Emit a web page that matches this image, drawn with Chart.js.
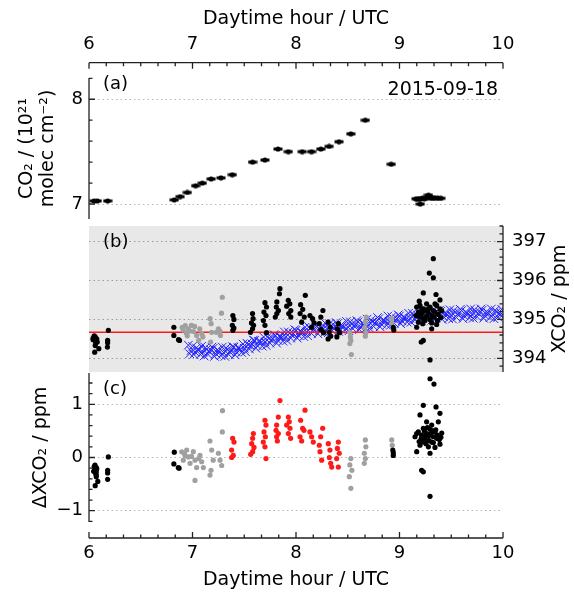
<!DOCTYPE html>
<html>
<head>
<meta charset="utf-8">
<script src="https://cdn.jsdelivr.net/npm/chart.js@4.4.0/dist/chart.umd.min.js"></script>
<style>
html, body { margin: 0; padding: 0; background: #fff; }
#fig { position: relative; width: 574px; height: 593px; background: #fff; }
#fig canvas { position: absolute; left: 0; top: 0; }
</style>
</head>
<body>
<div id="fig">
  <canvas id="cTop" width="574" height="593"></canvas>
  <canvas id="cA" width="574" height="593"></canvas>
  <canvas id="cB" width="574" height="593"></canvas>
  <canvas id="cC" width="574" height="593"></canvas>
  <canvas id="cBot" width="574" height="593"></canvas>
</div>
<script>
// ---- data: [hour UTC, value] ----
const dateLabel = '2015-09-18';
const hourTicks = [6, 7, 8, 9, 10];
const colTicks = [7, 8];
const xco2Ticks = [394, 395, 396, 397];
const dTicks = [-1, 0, 1];

// (a) CO2 column, 1e21 molec cm-2
const colPts = [
  [6.05, 7.03], [6.08, 7.03], [6.18, 7.03],
  [6.824, 7.04], [6.88, 7.07], [6.95, 7.11], [7.03, 7.175], [7.095, 7.20],
  [7.18, 7.24], [7.275, 7.25], [7.385, 7.28], [7.58, 7.40], [7.70, 7.42],
  [7.826, 7.525], [7.926, 7.50], [8.06, 7.50], [8.15, 7.50], [8.24, 7.525],
  [8.32, 7.55], [8.415, 7.595], [8.53, 7.67], [8.67, 7.80], [8.92, 7.38],
  [9.16, 7.05], [9.18, 7.045], [9.20, 7.05], [9.20, 7.00], [9.22, 7.055],
  [9.24, 7.05], [9.26, 7.06], [9.28, 7.085], [9.30, 7.06], [9.32, 7.055],
  [9.34, 7.06], [9.37, 7.055], [9.40, 7.055]
];

// (b) XCO2, ppm
const xBlack = [
  [6.04, 394.52], [6.05, 394.58], [6.06, 394.55], [6.055, 394.47], [6.07, 394.46],
  [6.065, 394.40], [6.08, 394.42], [6.06, 394.33], [6.095, 394.25], [6.055, 394.16],
  [6.04, 394.48], [6.075, 394.50],
  [6.187, 394.72], [6.18, 394.46], [6.18, 394.40], [6.178, 394.29],
  [6.82, 394.80], [6.82, 394.59], [6.865, 394.48], [6.875, 394.46],
  [7.39, 395.10], [7.40, 395.00], [7.385, 394.85], [7.40, 394.78], [7.39, 394.72],
  [7.58, 395.15], [7.585, 395.02], [7.57, 394.91], [7.59, 394.85], [7.58, 394.76], [7.56, 394.67],
  [7.70, 395.43], [7.715, 395.32], [7.69, 395.19], [7.71, 395.10], [7.685, 394.97], [7.70, 394.85], [7.715, 394.66],
  [7.845, 395.79], [7.84, 395.66], [7.815, 395.45], [7.81, 395.32], [7.83, 395.23], [7.815, 395.15], [7.80, 395.06],
  [7.925, 395.49], [7.94, 395.40], [7.91, 395.34], [7.95, 395.23], [7.93, 395.15], [7.95, 395.06],
  [8.09, 395.62], [8.045, 395.38], [8.065, 395.26], [8.04, 395.15], [8.08, 395.06], [8.055, 394.93],
  [8.135, 395.10], [8.16, 395.02], [8.175, 394.91], [8.15, 394.80],
  [8.26, 395.23], [8.24, 395.06], [8.225, 394.89], [8.24, 394.74], [8.265, 394.66],
  [8.31, 394.93], [8.33, 394.80], [8.32, 394.67], [8.335, 394.57], [8.31, 394.50],
  [8.41, 394.89], [8.40, 394.76], [8.42, 394.66], [8.395, 394.55],
  [8.94, 394.80], [8.945, 394.73],
  [9.327, 396.56], [9.288, 396.19], [9.327, 396.07], [9.230, 395.68], [9.353, 395.64],
  [9.191, 395.47], [9.391, 395.50], [9.166, 395.32], [9.198, 395.36], [9.230, 395.27],
  [9.262, 395.40], [9.295, 395.32], [9.327, 395.23], [9.359, 395.36], [9.391, 395.27],
  [9.182, 395.19], [9.214, 395.15], [9.246, 395.22], [9.279, 395.16], [9.311, 395.10],
  [9.343, 395.19], [9.375, 395.13], [9.408, 395.22], [9.159, 395.10], [9.198, 395.06],
  [9.230, 395.02], [9.262, 395.08], [9.295, 394.99], [9.333, 395.06], [9.366, 394.97],
  [9.398, 395.05], [9.182, 394.93], [9.224, 394.89], [9.311, 394.91], [9.359, 394.87],
  [9.166, 394.80], [9.311, 394.76], [9.246, 394.97], [9.279, 395.27], [9.343, 395.40],
  [9.214, 395.27],
  [9.21, 394.42], [9.23, 394.46], [9.295, 393.96], [9.288, 393.49]
];
const xGray = [
  [6.90, 394.80], [6.91, 394.73], [6.93, 394.84], [6.94, 394.65], [6.96, 394.76],
  [6.99, 394.85], [7.01, 394.69], [7.02, 394.82], [7.04, 394.59], [7.07, 394.76],
  [7.09, 394.63], [7.10, 394.55], [7.06, 394.46], [6.975, 394.70], [6.95, 394.58],
  [7.17, 395.02], [7.18, 394.89], [7.185, 394.67], [7.175, 394.42], [7.23, 394.67],
  [7.25, 394.76], [7.27, 394.59], [7.28, 395.16], [7.288, 395.57], [7.265, 394.70],
  [8.52, 394.67], [8.525, 394.55], [8.53, 394.46], [8.52, 394.38], [8.535, 394.10],
  [8.68, 395.06], [8.67, 394.93], [8.665, 394.80], [8.675, 394.66], [8.67, 394.57],
  [8.925, 395.02], [8.925, 394.90]
];
const modelPts = [
  [6.96, 394.34], [6.9725, 394.12], [6.985, 394.20],
  [7.0, 394.31], [7.0125, 394.10], [7.025, 394.16], [7.0375, 394.27], [7.05, 394.23], [7.0625, 394.21], [7.075, 394.10], [7.0875, 394.31],
  [7.1, 394.16], [7.1125, 394.06], [7.125, 394.28], [7.1375, 394.23], [7.15, 394.10], [7.1625, 394.17], [7.175, 394.22], [7.1875, 394.29],
  [7.2, 394.26], [7.2125, 394.05], [7.225, 394.12], [7.2375, 394.22], [7.25, 394.20], [7.2625, 394.16], [7.275, 394.07], [7.2875, 394.29],
  [7.3, 394.15], [7.3125, 394.05], [7.325, 394.27], [7.3375, 394.22], [7.35, 394.10], [7.3625, 394.16], [7.375, 394.22], [7.3875, 394.30],
  [7.4, 394.29], [7.4125, 394.09], [7.425, 394.16], [7.4375, 394.27], [7.45, 394.27], [7.4625, 394.23], [7.475, 394.15], [7.4875, 394.37],
  [7.5, 394.26], [7.5125, 394.17], [7.525, 394.39], [7.5375, 394.35], [7.55, 394.24], [7.5625, 394.32], [7.575, 394.37], [7.5875, 394.47],
  [7.6, 394.46], [7.6125, 394.26], [7.625, 394.33], [7.6375, 394.44], [7.65, 394.44], [7.6625, 394.41], [7.675, 394.31], [7.6875, 394.55],
  [7.7, 394.42], [7.7125, 394.33], [7.725, 394.55], [7.7375, 394.51], [7.75, 394.39], [7.7625, 394.47], [7.775, 394.51], [7.7875, 394.61],
  [7.8, 394.59], [7.8125, 394.39], [7.825, 394.46], [7.8375, 394.57], [7.85, 394.56], [7.8625, 394.54], [7.875, 394.44], [7.8875, 394.68],
  [7.9, 394.55], [7.9125, 394.46], [7.925, 394.68], [7.9375, 394.64], [7.95, 394.52], [7.9625, 394.60], [7.975, 394.64], [7.9875, 394.74],
  [8.0, 394.72], [8.0125, 394.52], [8.025, 394.59], [8.0375, 394.70], [8.05, 394.68], [8.0625, 394.66], [8.075, 394.56], [8.0875, 394.80],
  [8.1, 394.68], [8.1125, 394.58], [8.125, 394.81], [8.1375, 394.76], [8.15, 394.64], [8.1625, 394.72], [8.175, 394.76], [8.1875, 394.85],
  [8.2, 394.83], [8.2125, 394.63], [8.225, 394.70], [8.2375, 394.80], [8.25, 394.79], [8.2625, 394.76], [8.275, 394.66], [8.2875, 394.89],
  [8.3, 394.76], [8.3125, 394.66], [8.325, 394.89], [8.3375, 394.83], [8.35, 394.71], [8.3625, 394.78], [8.375, 394.83], [8.3875, 394.92],
  [8.4, 394.89], [8.4125, 394.69], [8.425, 394.75], [8.4375, 394.86], [8.45, 394.84], [8.4625, 394.81], [8.475, 394.72], [8.4875, 394.95],
  [8.5, 394.81], [8.5125, 394.71], [8.525, 394.94], [8.5375, 394.88], [8.55, 394.76], [8.5625, 394.83], [8.575, 394.88], [8.5875, 394.97],
  [8.6, 394.94], [8.6125, 394.74], [8.625, 394.80], [8.6375, 394.91], [8.65, 394.89], [8.6625, 394.87], [8.675, 394.77], [8.6875, 395.01],
  [8.7, 394.86], [8.7125, 394.77], [8.725, 394.98], [8.7375, 394.94], [8.75, 394.82], [8.7625, 394.91], [8.775, 394.94], [8.7875, 395.05],
  [8.8, 395.02], [8.8125, 394.81], [8.825, 394.88], [8.8375, 394.98], [8.85, 394.97], [8.8625, 394.95], [8.875, 394.85], [8.8875, 395.09],
  [8.9, 394.95], [8.9125, 394.85], [8.925, 395.07], [8.9375, 395.02], [8.95, 394.90], [8.9625, 394.98], [8.975, 395.02], [8.9875, 395.12],
  [9.0, 395.09], [9.0125, 394.89], [9.025, 394.96], [9.0375, 395.06], [9.05, 395.05], [9.0625, 395.02], [9.075, 394.93], [9.0875, 395.16],
  [9.1, 395.03], [9.1125, 394.93], [9.125, 395.16], [9.1375, 395.10], [9.15, 394.99], [9.1625, 395.06], [9.175, 395.11], [9.1875, 395.20],
  [9.2, 395.17], [9.2125, 394.96], [9.225, 395.04], [9.2375, 395.13], [9.25, 395.11], [9.2625, 395.09], [9.275, 395.00], [9.2875, 395.22],
  [9.3, 395.08], [9.3125, 394.98], [9.325, 395.21], [9.3375, 395.15], [9.35, 395.03], [9.3625, 395.11], [9.375, 395.15], [9.3875, 395.24],
  [9.4, 395.21], [9.4125, 395.00], [9.425, 395.07], [9.4375, 395.17], [9.45, 395.15], [9.4625, 395.12], [9.475, 395.02], [9.4875, 395.25],
  [9.5, 395.11], [9.5125, 395.01], [9.525, 395.23], [9.5375, 395.18], [9.55, 395.05], [9.5625, 395.13], [9.575, 395.17], [9.5875, 395.26],
  [9.6, 395.23], [9.6125, 395.02], [9.625, 395.09], [9.6375, 395.19], [9.65, 395.17], [9.6625, 395.14], [9.675, 395.04], [9.6875, 395.27],
  [9.7, 395.13], [9.7125, 395.03], [9.725, 395.25], [9.7375, 395.20], [9.75, 395.07], [9.7625, 395.15], [9.775, 395.19], [9.7875, 395.27],
  [9.8, 395.24], [9.8125, 395.03], [9.825, 395.10], [9.8375, 395.20], [9.85, 395.18], [9.8625, 395.15], [9.875, 395.05], [9.8875, 395.27],
  [9.9, 395.12], [9.9125, 395.02], [9.925, 395.24], [9.9375, 395.19], [9.95, 395.06], [9.9625, 395.14], [9.975, 395.18], [9.9875, 395.26],
  [9.99, 395.10]
];
const refLevel = 394.67;

// (c) delta XCO2, ppm
const dBlack = [
  [6.058, -0.145], [6.07, -0.19], [6.055, -0.23], [6.07, -0.27], [6.07, -0.33],
  [6.085, -0.45], [6.06, -0.53], [6.075, -0.21], [6.05, -0.17], [6.07, -0.36],
  [6.045, -0.26], [6.065, -0.30],
  [6.187, 0.01], [6.18, -0.24], [6.18, -0.29], [6.18, -0.41],
  [6.824, 0.10], [6.82, -0.12], [6.863, -0.19], [6.87, -0.20],
  [8.935, 0.14], [8.94, 0.04], [8.94, 0.09],
  [9.295, 1.48], [9.333, 1.38], [9.230, 0.98], [9.353, 0.95], [9.198, 0.80],
  [9.391, 0.83], [9.262, 0.67], [9.311, 0.61], [9.375, 0.67], [9.230, 0.55],
  [9.295, 0.53], [9.343, 0.48], [9.408, 0.46], [9.166, 0.45], [9.214, 0.42],
  [9.279, 0.40], [9.327, 0.39], [9.359, 0.36], [9.246, 0.33], [9.311, 0.29],
  [9.391, 0.25], [9.198, 0.23], [9.279, 0.20], [9.343, 0.19], [9.166, 0.11],
  [9.295, 0.08], [9.230, -0.27], [9.214, -0.24], [9.295, -0.73],
  [9.182, 0.48], [9.262, 0.45], [9.366, 0.42], [9.150, 0.39], [9.385, 0.34],
  [9.256, 0.26], [9.327, 0.28], [9.224, 0.29], [9.240, 0.50], [9.300, 0.44],
  [9.270, 0.56], [9.350, 0.52], [9.210, 0.36], [9.285, 0.32], [9.320, 0.50],
  [9.250, 0.40], [9.400, 0.38], [9.190, 0.30]
];
const dGray = [
  [6.896, 0.106], [6.928, 0.04], [6.911, -0.05], [6.944, 0.14], [6.96, 0.01],
  [6.976, -0.11], [7.008, 0.11], [7.024, -0.05], [7.04, -0.19], [7.072, 0.04],
  [7.089, -0.08], [7.105, -0.19], [7.024, -0.43], [7.169, 0.31], [7.185, 0.14],
  [7.2, -0.05], [7.179, -0.24], [7.169, -0.33], [7.25, 0.08], [7.266, -0.05],
  [7.282, -0.15], [7.288, 0.48], [7.29, 0.88], [6.92, 0.08], [6.99, 0.02], [7.06, -0.02],
  [8.53, -0.02], [8.52, -0.14], [8.54, -0.24], [8.515, -0.36], [8.53, -0.58],
  [8.67, 0.33], [8.675, 0.20], [8.66, 0.08], [8.67, -0.02], [8.66, -0.11],
  [8.925, 0.33], [8.93, 0.23]
];
const dRed = [
  [7.388, 0.36], [7.401, 0.29], [7.378, 0.14], [7.394, 0.04], [7.378, 0.0],
  [7.588, 0.45], [7.581, 0.36], [7.572, 0.26], [7.594, 0.19], [7.581, 0.11], [7.562, 0.06],
  [7.700, 0.70], [7.710, 0.61], [7.691, 0.48], [7.704, 0.39], [7.684, 0.29], [7.700, 0.20], [7.710, -0.02],
  [7.845, 1.07], [7.829, 0.76], [7.813, 0.61], [7.807, 0.51], [7.829, 0.45], [7.813, 0.39], [7.820, 0.31],
  [7.926, 0.76], [7.935, 0.67], [7.910, 0.61], [7.942, 0.55], [7.926, 0.45], [7.948, 0.36],
  [8.087, 0.89], [8.045, 0.70], [8.064, 0.55], [8.039, 0.39], [8.055, 0.31], [8.077, 0.51],
  [8.135, 0.48], [8.151, 0.39], [8.167, 0.29],
  [8.258, 0.55], [8.238, 0.39], [8.225, 0.23], [8.232, 0.11], [8.248, -0.05],
  [8.312, 0.26], [8.328, 0.14], [8.322, 0.0], [8.335, -0.11], [8.345, -0.18],
  [8.409, 0.29], [8.400, 0.17], [8.418, 0.08], [8.393, -0.02], [8.409, -0.18]
];

// ---- look ----
Chart.defaults.font.family = "'DejaVu Sans', sans-serif";
Chart.defaults.color = '#000';
const FONT = "'DejaVu Sans', sans-serif";
const BLUE = 'rgb(35,35,255)', RED = '#ff1a1a', GRAY = '#a0a0a0';

function pts(arr) { return arr.map(p => ({ x: p[0], y: p[1] })); }
function steps(lo, hi, d) {
  const out = [];
  for (let v = lo; v <= hi + 1e-9; v += d) out.push(+v.toFixed(4));
  return out;
}
function notIn(arr, majors) { return arr.filter(v => !majors.some(m => Math.abs(m - v) < 1e-6)); }

const xMinor = notIn(steps(6, 10, 1 / 6), hourTicks);
const aMinor = notIn(steps(7.2, 8.2, 0.2), colTicks);
const bMinor = notIn(steps(393.8, 397.4, 0.2), xco2Ticks);
const cMinor = notIn(steps(-1.2, 1.4, 0.2), dTicks);

function base(pad) {
  return {
    responsive: false, animation: false, events: [],
    layout: { padding: pad },
    plugins: { legend: { display: false }, tooltip: { enabled: false } }
  };
}
const xHidden = { type: 'linear', min: 6, max: 10, display: false };

function yAxis(o) {
  return {
    type: 'linear', position: o.pos, min: o.min, max: o.max,
    afterFit: s => { s.width = o.width; },
    afterBuildTicks: s => { s.ticks = o.ticks.map(v => ({ value: v })); },
    grid: { color: o.gridColor, lineWidth: 1, drawTicks: false },
    border: { display: false, dash: [1.5, 3] },
    ticks: { font: { size: 18 }, color: '#000', padding: o.pad,
             callback: v => (v < 0 ? '\u2212' + Math.abs(v) : String(v)) },
    title: o.title || { display: false }
  };
}

function spineV(chart, id, side, major, minor) {
  const s = chart.scales[id], ctx = chart.ctx, a = chart.chartArea;
  const x = side === 'left' ? a.left : a.right, dir = side === 'left' ? 1 : -1;
  ctx.save();
  ctx.strokeStyle = '#222'; ctx.lineWidth = 1.3;
  ctx.beginPath();
  ctx.moveTo(x, a.top); ctx.lineTo(x, a.bottom);
  major.forEach(v => { const y = s.getPixelForValue(v); ctx.moveTo(x, y); ctx.lineTo(x + dir * 6, y); });
  minor.forEach(v => { const y = s.getPixelForValue(v); ctx.moveTo(x, y); ctx.lineTo(x + dir * 3.5, y); });
  ctx.stroke();
  ctx.restore();
}
function spineH(chart, edge, major, minor) {
  const s = chart.scales.x, ctx = chart.ctx, a = chart.chartArea;
  const y = edge === 'top' ? a.top : a.bottom, dir = edge === 'top' ? 1 : -1;
  ctx.save();
  ctx.strokeStyle = '#222'; ctx.lineWidth = 1.3;
  ctx.beginPath();
  ctx.moveTo(s.left, y); ctx.lineTo(s.right, y);
  major.forEach(v => { const x = s.getPixelForValue(v); ctx.moveTo(x, y); ctx.lineTo(x, y + dir * 6); });
  minor.forEach(v => { const x = s.getPixelForValue(v); ctx.moveTo(x, y); ctx.lineTo(x, y + dir * 3.5); });
  ctx.stroke();
  ctx.restore();
}
function label(ctx, txt, x, y, align, size) {
  ctx.save();
  ctx.font = size + 'px ' + FONT;
  ctx.fillStyle = '#000';
  ctx.textAlign = align; ctx.textBaseline = 'middle';
  ctx.fillText(txt, x, y);
  ctx.restore();
}
function dots(data, color, order) {
  return { data: pts(data), backgroundColor: color, borderColor: color, borderWidth: 0,
           pointRadius: 2.6, pointHoverRadius: 2.6, order: order };
}

// marker for (a): dot with short horizontal bar
const dash = document.createElement('canvas');
dash.width = 10; dash.height = 6;
const dc = dash.getContext('2d');
dc.fillStyle = '#000';
dc.fillRect(0.5, 1.5, 9, 3);
dc.beginPath(); dc.arc(5, 3, 2.6, 0, 2 * Math.PI); dc.fill();

// ---- top hour axis ----
new Chart(document.getElementById('cTop'), {
  type: 'scatter',
  data: { datasets: [] },
  options: Object.assign(base({ left: 89, right: 71, top: 0, bottom: 523 }), {
    scales: {
      x: {
        type: 'linear', position: 'top', min: 6, max: 10,
        afterFit: s => { s.height = 62.7; },
        afterBuildTicks: s => { s.ticks = hourTicks.map(v => ({ value: v })); },
        grid: { display: false, drawTicks: false },
        border: { display: false },
        ticks: { font: { size: 18 }, color: '#000', padding: 8, maxRotation: 0, autoSkip: false },
        title: { display: true, text: 'Daytime hour / UTC', font: { size: 19 }, color: '#000',
                 padding: { top: 8, bottom: 0 } }
      },
      y: { display: false, min: 0, max: 1 }
    }
  }),
  plugins: [{ id: 'topFrame', afterDraw: c => spineH(c, 'top', hourTicks, xMinor) }]
});

// ---- (a) CO2 column ----
new Chart(document.getElementById('cA'), {
  type: 'scatter',
  data: { datasets: [{
    data: pts(colPts), pointStyle: dash, pointRadius: 4, backgroundColor: '#000', borderColor: '#000'
  }] },
  options: Object.assign(base({ left: 0, right: 71, top: 78, bottom: 374 }), {
    scales: {
      x: xHidden,
      y: yAxis({ pos: 'left', min: 6.857, max: 8.203, width: 89, ticks: colTicks, gridColor: '#b4b4b4', pad: 6,
        title: { display: true, text: ['CO\u2082 / (10\u00b2\u00b9', 'molec cm\u207b\u00b2)'],
                 font: { size: 19, lineHeight: 1.1 }, color: '#000', padding: { top: 16.5 } } })
    }
  }),
  plugins: [{ id: 'aFrame', afterDraw: c => {
    spineV(c, 'y', 'left', colTicks, aMinor);
    const a = c.chartArea;
    label(c.ctx, '(a)', a.left + 14, a.top + 6, 'left', 18);
    label(c.ctx, dateLabel, a.right - 5, a.top + 12, 'right', 19);
  } }]
});

// ---- (b) XCO2 ----
new Chart(document.getElementById('cB'), {
  type: 'scatter',
  data: { datasets: [
    Object.assign(dots(xBlack, '#000', 0), { clip: false }),
    dots(xGray, GRAY, 1),
    { data: pts([[6, refLevel], [10, refLevel]]), showLine: true, pointRadius: 0,
      borderColor: RED, borderWidth: 1.5, order: 2 },
    { data: pts(modelPts), pointStyle: 'crossRot', pointRadius: 6, pointHoverRadius: 6,
      borderColor: BLUE, backgroundColor: 'transparent', borderWidth: 1, order: 3 }
  ] },
  options: Object.assign(base({ left: 89, right: 0, top: 226, bottom: 221 }), {
    scales: {
      x: xHidden,
      y: yAxis({ pos: 'right', min: 393.65, max: 397.4, width: 71, ticks: xco2Ticks, gridColor: '#9a9a9a', pad: 9 })
    }
  }),
  plugins: [{ id: 'bFrame',
    beforeDraw: c => {
      const a = c.chartArea, ctx = c.ctx;
      ctx.save(); ctx.fillStyle = '#e8e8e8';
      ctx.fillRect(a.left, a.top, a.right - a.left, a.bottom - a.top);
      ctx.restore();
    },
    afterDraw: c => {
      spineV(c, 'y', 'right', xco2Ticks, bMinor);
      const a = c.chartArea, ctx = c.ctx;
      label(ctx, '(b)', a.left + 14, a.top + 16, 'left', 18);
      ctx.save();
      ctx.translate(c.scales.y.right - 14, (a.top + a.bottom) / 2);
      ctx.rotate(-Math.PI / 2);
      label(ctx, 'XCO\u2082 / ppm', 0, 0, 'center', 19);
      ctx.restore();
    } }]
});

// ---- (c) delta XCO2 ----
new Chart(document.getElementById('cC'), {
  type: 'scatter',
  data: { datasets: [
    dots(dBlack, '#000', 0),
    dots(dGray, GRAY, 1),
    dots(dRed, RED, 0)
  ] },
  options: Object.assign(base({ left: 0, right: 71, top: 373, bottom: 71 }), {
    scales: {
      x: xHidden,
      y: yAxis({ pos: 'left', min: -1.212, max: 1.588, width: 89, ticks: dTicks, gridColor: '#b4b4b4', pad: 6,
        title: { display: true, text: '\u0394XCO\u2082 / ppm', font: { size: 19 }, color: '#000',
                 padding: { top: 30 } } })
    }
  }),
  plugins: [{ id: 'cFrame', afterDraw: c => {
    spineV(c, 'y', 'left', dTicks, cMinor);
    const a = c.chartArea;
    label(c.ctx, '(c)', a.left + 14, a.top + 16, 'left', 18);
  } }]
});

// ---- bottom hour axis ----
new Chart(document.getElementById('cBot'), {
  type: 'scatter',
  data: { datasets: [] },
  options: Object.assign(base({ left: 89, right: 71, top: 530, bottom: 0 }), {
    scales: {
      x: {
        type: 'linear', position: 'bottom', min: 6, max: 10,
        afterFit: s => { s.height = 55; },
        afterBuildTicks: s => { s.ticks = hourTicks.map(v => ({ value: v })); },
        grid: { display: false, drawTicks: false },
        border: { display: false },
        ticks: { font: { size: 18 }, color: '#000', padding: 5, maxRotation: 0, autoSkip: false },
        title: { display: true, text: 'Daytime hour / UTC', font: { size: 19 }, color: '#000',
                 padding: { top: 0, bottom: 2 } }
      },
      y: { display: false, min: 0, max: 1 }
    }
  }),
  plugins: [{ id: 'botFrame', afterDraw: c => spineH(c, 'bottom', hourTicks, xMinor) }]
});
</script>
</body>
</html>
